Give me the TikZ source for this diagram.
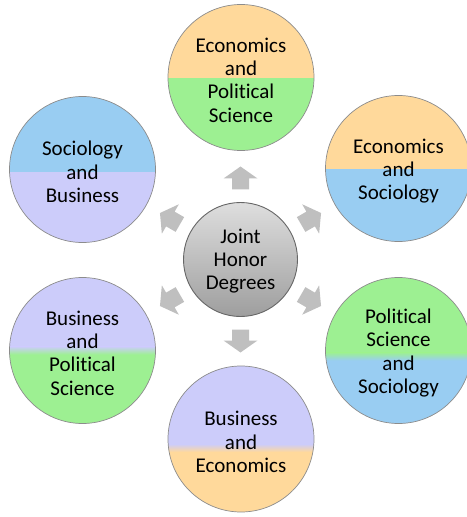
\documentclass[tikz,border=0pt]{standalone}
\usepackage{fontspec}
\setmainfont{Carlito}[Ligatures=NoCommon]
\definecolor{corange}{HTML}{FFD99B}
\definecolor{cgreen}{HTML}{9DF092}
\definecolor{cblue}{HTML}{99CDF2}
\definecolor{clav}{HTML}{CCCCFA}
\definecolor{carrow}{HTML}{BFBFBF}
\newcommand{\twotone}[4]{%
  \fill[#1] (path picture bounding box.north west) rectangle ([yshift=#4]path picture bounding box.east);
  \fill[#2] (path picture bounding box.south west) rectangle ([yshift=#4]path picture bounding box.east);
  \shade[top color=#1,bottom color=#2] ([yshift={#4+#3}]path picture bounding box.west) rectangle ([yshift={#4-#3}]path picture bounding box.east);
}
\tikzset{
  topic/.style n args={4}{circle, minimum size=146bp, inner sep=0pt, draw=black!45, line width=0.7bp,
    path picture={\twotone{#1}{#2}{#3}{#4}}},
  label text/.style={align=center, inner sep=0pt, font=\fontsize{21bp}{23.4bp}\selectfont},
  hub/.style={circle, minimum size=114bp, inner sep=0pt, draw=black!60, line width=0.9bp,
    top color=black!13, bottom color=black!38},
  blockarrow/.style={fill=carrow, draw=none}
}
\begin{document}
\begin{tikzpicture}[x=1bp,y=-1bp]
\useasboundingbox (0,0) rectangle (467,517);
\coordinate (c) at (240.5,259.5);
% arrows
\foreach \a in {90,30,-30,-90,210,150}{
  \begin{scope}[shift={(c)}, rotate=-\a]
    \fill[blockarrow] (70,-8.5) -- (81,-8.5) -- (81,-17) -- (93,0) -- (81,17) -- (81,8.5) -- (70,8.5) -- cycle;
  \end{scope}
}
\node[hub] (hub) at (c) {};
\node[label text] (hub-t) at ([yshift=-1.5bp]hub.center) {Joint\\Honor\\Degrees};
\node[topic={corange}{cgreen}{0.5bp}{0bp}] (ep) at (241,77.5) {};
\node[label text] (ep-t) at ([yshift=-2.5bp]ep.center) {Economics\\and\\Political\\Science};
\node[topic={corange}{cblue}{0.5bp}{0bp}] (es) at (398.5,168.5) {};
\node[label text] (es-t) at ([yshift=-2.5bp]es.center) {Economics\\and\\Sociology};
\node[topic={cgreen}{cblue}{4bp}{-6bp}] (ps) at (398.5,350.5) {};
\node[label text] (ps-t) at ([yshift=-2.5bp]ps.center) {Political\\Science\\and\\Sociology};
\node[topic={clav}{corange}{4bp}{-9bp}] (be) at (241,439) {};
\node[label text] (be-t) at ([yshift=-3bp]be.center) {Business\\and\\Economics};
\node[topic={clav}{cgreen}{4bp}{0bp}] (bp) at (82.5,350.5) {};
\node[label text] (bp-t) at ([yshift=-2.5bp]bp.center) {Business\\and\\Political\\Science};
\node[topic={cblue}{clav}{0.5bp}{-2bp}] (sb) at (82.5,169.5) {};
\node[label text] (sb-t) at ([yshift=-2.5bp]sb.center) {Sociology\\and\\Business};
\end{tikzpicture}
\end{document}
